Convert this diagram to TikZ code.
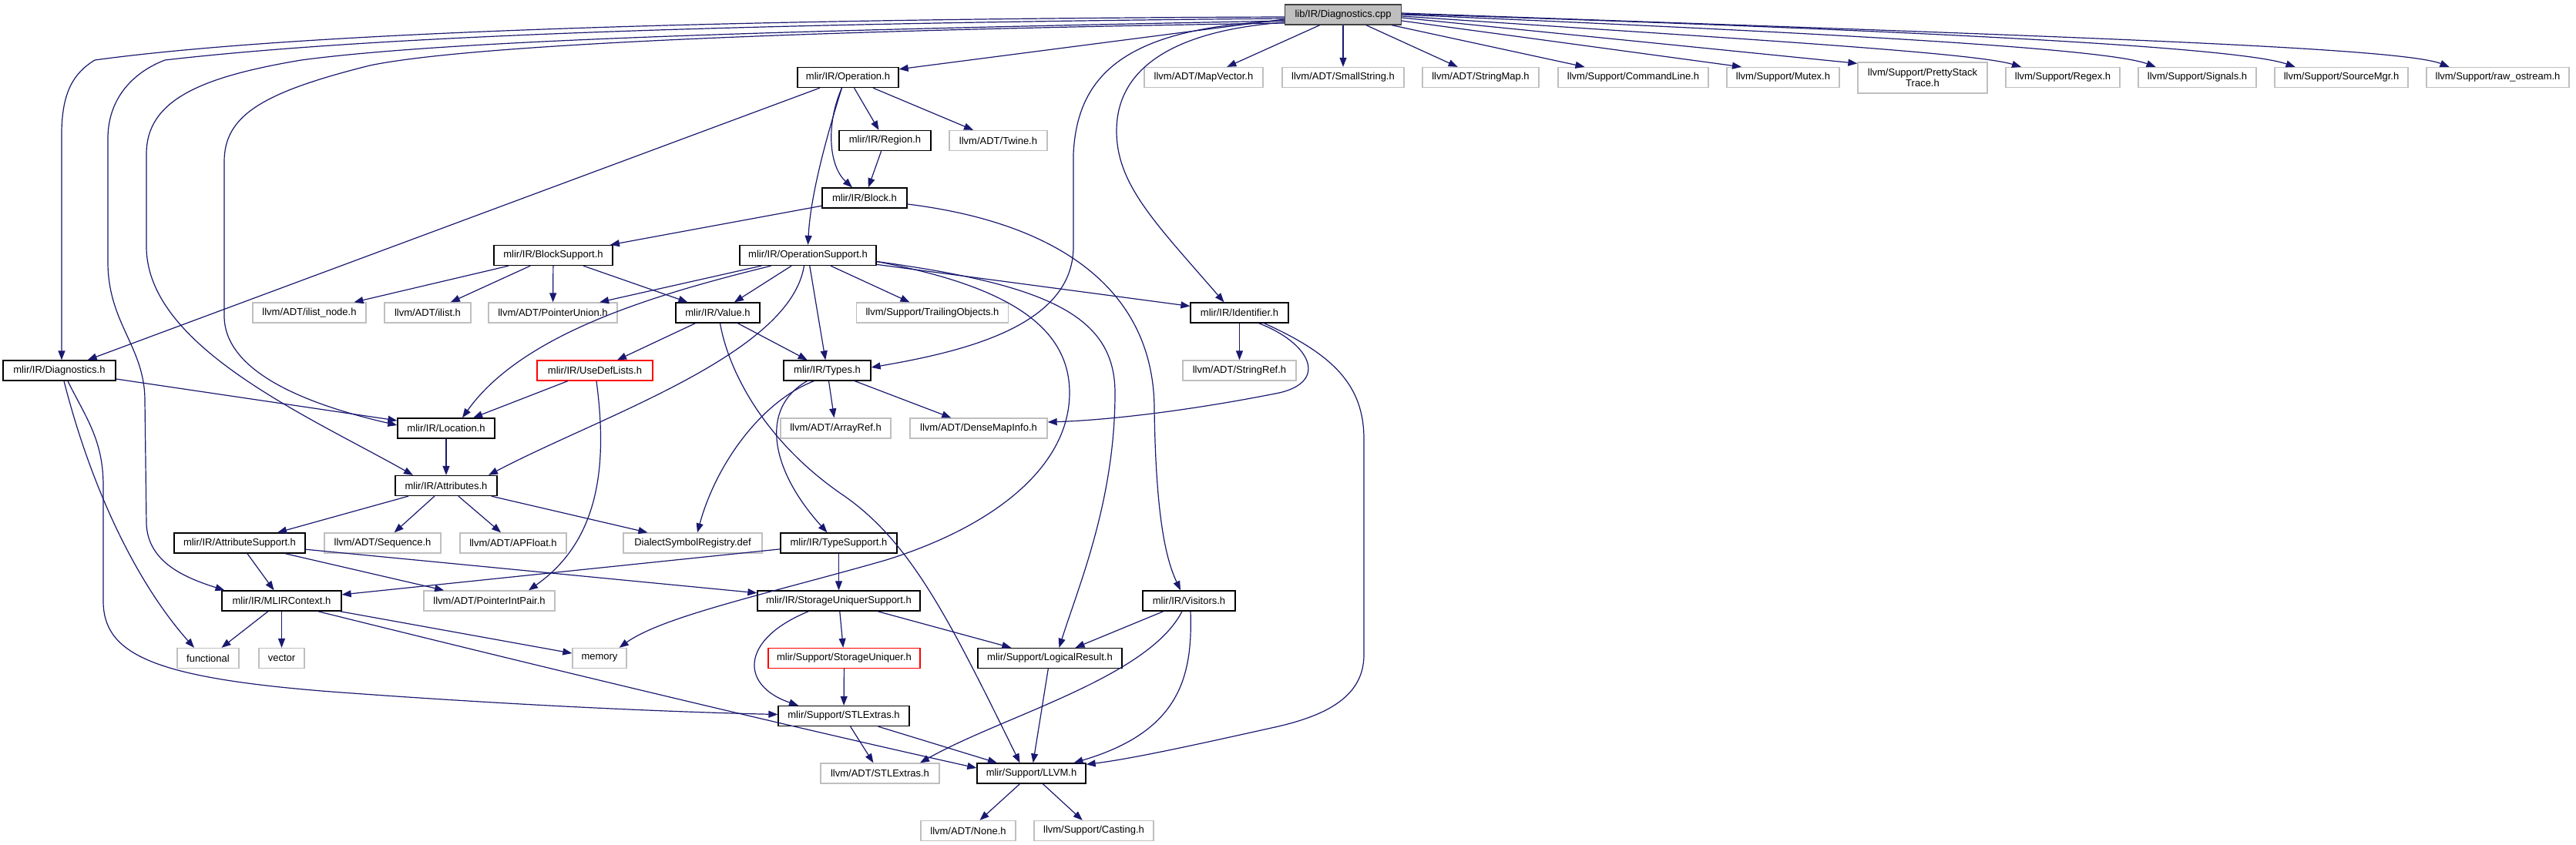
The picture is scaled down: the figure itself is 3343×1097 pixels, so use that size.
\documentclass[tikz,border=0pt]{standalone}
\usepackage{fontspec}
\setmainfont{Liberation Sans}
\usetikzlibrary{arrows.meta}
\definecolor{edgeblue}{HTML}{191970}
\definecolor{extgray}{HTML}{BFBFBF}
\definecolor{rootfill}{HTML}{BFBFBF}
\definecolor{rootline}{HTML}{404040}
\definecolor{redline}{HTML}{FF0000}
\tikzset{
  nd/.style={rectangle, draw, inner sep=0pt, minimum height=26pt, line width=1.3pt,
    font=\fontsize{13}{14}\selectfont, text=black},
  doc/.style={nd, draw=black},
  ext/.style={nd, draw=extgray},
  redn/.style={nd, draw=redline},
  root/.style={nd, draw=rootline, fill=rootfill},
  e/.style={draw=edgeblue, line width=1.2pt, -{Triangle[length=12pt,width=9pt]}}
}
\begin{document}
\begin{tikzpicture}[x=1pt,y=-1pt]
\fill[white] (0,0) rectangle (3343,1097);
\useasboundingbox (0,0) rectangle (3343,1097);

% nodes
\node[root, minimum width=151] (cpp) at (1743,19) {lib/IR/Diagnostics.cpp};
\node[ext, minimum width=158] (smallstr) at (1743,100.5) {llvm/ADT/SmallString.h};
\node[ext, minimum width=151] (strmap) at (1921.5,100.5) {llvm/ADT/StringMap.h};
\node[ext, minimum width=195] (cmdline) at (2119.5,100.5) {llvm/Support/CommandLine.h};
\node[ext, minimum width=146] (mutex) at (2314,100.5) {llvm/Support/Mutex.h};
\node[ext, minimum width=168, minimum height=40, align=center] (pretty) at (2495,101) {llvm/Support/PrettyStack\\Trace.h};
\node[ext, minimum width=148] (regex) at (2677,100.5) {llvm/Support/Regex.h};
\node[ext, minimum width=153] (signals) at (2851.5,100.5) {llvm/Support/Signals.h};
\node[ext, minimum width=173] (srcmgr) at (3038.5,100.5) {llvm/Support/SourceMgr.h};
\node[ext, minimum width=185] (rawos) at (3241.5,100.5) {llvm/Support/raw\_ostream.h};
\node[doc, minimum width=131] (op) at (1100.5,100.5) {mlir/IR/Operation.h};
\node[ext, minimum width=154] (mapvec) at (1562,100.5) {llvm/ADT/MapVector.h};
\node[doc, minimum width=119] (region) at (1148.5,182.5) {mlir/IR/Region.h};
\node[ext, minimum width=127] (twine) at (1295.5,182.5) {llvm/ADT/Twine.h};
\node[doc, minimum width=110] (block) at (1122,257) {mlir/IR/Block.h};
\node[doc, minimum width=177] (opsup) at (1048.5,331.5) {mlir/IR/OperationSupport.h};
\node[doc, minimum width=154] (blksup) at (718,331.5) {mlir/IR/BlockSupport.h};
\node[ext, minimum width=147] (ilistnode) at (401.5,406) {llvm/ADT/ilist\_node.h};
\node[ext, minimum width=112] (ilist) at (555,406) {llvm/ADT/ilist.h};
\node[ext, minimum width=167] (ptrunion) at (717.5,406) {llvm/ADT/PointerUnion.h};
\node[doc, minimum width=109] (value) at (931.5,406) {mlir/IR/Value.h};
\node[ext, minimum width=197] (trailing) at (1210,406) {llvm/Support/TrailingObjects.h};
\node[doc, minimum width=127] (ident) at (1608.5,406) {mlir/IR/Identifier.h};
\node[doc, minimum width=146] (diagh) at (77,481) {mlir/IR/Diagnostics.h};
\node[redn, minimum width=150] (usedef) at (772,481) {mlir/IR/UseDefLists.h};
\node[doc, minimum width=113] (types) at (1073.5,481) {mlir/IR/Types.h};
\node[ext, minimum width=147] (strref) at (1608.5,481) {llvm/ADT/StringRef.h};
\node[doc, minimum width=126] (loc) at (579,556) {mlir/IR/Location.h};
\node[ext, minimum width=143] (arrayref) at (1084.5,556) {llvm/ADT/ArrayRef.h};
\node[ext, minimum width=178] (densemap) at (1270,556) {llvm/ADT/DenseMapInfo.h};
\node[doc, minimum width=132] (attrs) at (579,630.5) {mlir/IR/Attributes.h};
\node[doc, minimum width=170] (attrsup) at (311,705) {mlir/IR/AttributeSupport.h};
\node[ext, minimum width=151] (sequence) at (496.5,705) {llvm/ADT/Sequence.h};
\node[ext, minimum width=138] (apfloat) at (666,705) {llvm/ADT/APFloat.h};
\node[ext, minimum width=180] (dialreg) at (899,705) {DialectSymbolRegistry.def};
\node[doc, minimum width=151] (typesup) at (1088.5,705) {mlir/IR/TypeSupport.h};
\node[doc, minimum width=155] (mlirctx) at (365.5,780) {mlir/IR/MLIRContext.h};
\node[ext, minimum width=170] (ptrint) at (635,780) {llvm/ADT/PointerIntPair.h};
\node[doc, minimum width=211] (susup) at (1088.5,780) {mlir/IR/StorageUniquerSupport.h};
\node[doc, minimum width=120] (visitors) at (1543,780) {mlir/IR/Visitors.h};
\node[ext, minimum width=80] (functional) at (270,854.5) {functional};
\node[ext, minimum width=59] (vector) at (365.5,854.5) {vector};
\node[ext, minimum width=70] (memory) at (778,854.5) {memory};
\node[redn, minimum width=197] (su) at (1095.5,854.5) {mlir/Support/StorageUniquer.h};
\node[doc, minimum width=187] (logres) at (1362.5,854.5) {mlir/Support/LogicalResult.h};
\node[doc, minimum width=170] (stlm) at (1095,929.5) {mlir/Support/STLExtras.h};
\node[ext, minimum width=154] (stll) at (1142,1004) {llvm/ADT/STLExtras.h};
\node[doc, minimum width=141] (llvmh) at (1338.5,1004) {mlir/Support/LLVM.h};
\node[ext, minimum width=123] (none) at (1256.5,1078.5) {llvm/ADT/None.h};
\node[ext, minimum width=155] (casting) at (1419.5,1078.5) {llvm/Support/Casting.h};

% edges from the root
\draw[e] ([yshift=-3pt]cpp.west) .. controls (1000,24) and (400,40) .. (123,78) .. controls (95,95) and (81,120) .. (80,170) -- ([xshift=3pt]diagh.north);
\draw[e] ([yshift=-5pt]cpp.west) .. controls (1000,30) and (500,45) .. (214,78) .. controls (170,95) and (140,130) .. (140,180) -- (140,340) .. controls (140,420) and (188,450) .. (188,520) -- (190,680) .. controls (192,730) and (240,750) .. ([xshift=-74pt]mlirctx.north);
\draw[e] ([yshift=-8pt]cpp.west) .. controls (1100,38) and (600,50) .. (391,78) .. controls (260,100) and (190,130) .. (190,200) -- (190,320) .. controls (190,450) and (400,540) .. ([xshift=-43pt]attrs.north);
\draw[e] ([yshift=-11pt]cpp.west) .. controls (1000,40) and (600,60) .. (480,85) .. controls (340,120) and (291,150) .. (291,210) -- (291,410) .. controls (291,490) and (420,530) .. ([yshift=4pt]loc.west);
\draw[e] ([yshift=-6pt]cpp.west) -- ([yshift=-3pt]op.north east);
\draw[e] (cpp) -- (mapvec);
\draw[e] (cpp) -- (smallstr);
\draw[e] (cpp) -- (strmap);
\draw[e] (cpp) -- (cmdline);
\draw[e] ([yshift=-8pt]cpp.east) -- ([xshift=-54pt]mutex.north);
\draw[e] ([yshift=-4pt]cpp.east) -- ([yshift=-2pt]pretty.north west);
\draw[e] ([yshift=-2pt]cpp.east) .. controls (2250,50) and (2560,68) .. ([xshift=-54pt]regex.north);
\draw[e] (cpp.east) .. controls (2350,42) and (2730,62) .. ([xshift=-54pt]signals.north);
\draw[e] ([yshift=1pt]cpp.east) .. controls (2450,38) and (2900,60) .. ([xshift=-60pt]srcmgr.north);
\draw[e] ([yshift=2pt]cpp.east) .. controls (2600,45) and (3110,60) .. ([xshift=-63pt]rawos.north);
\draw[e] ([yshift=-8pt]cpp.west) .. controls (1470,35) and (1398,90) .. (1393,200) -- (1393,320) .. controls (1393,420) and (1260,455) .. ([yshift=4pt]types.east);
\draw[e] ([yshift=-10pt]cpp.west) .. controls (1520,40) and (1449,90) .. (1449,170) .. controls (1449,240) and (1500,290) .. ([xshift=-20pt]ident.north);

% Operation.h
\draw[e] (op) -- (diagh);
\draw[e] (op) -- (region);
\draw[e] (op) -- (twine);
\draw[e] ([xshift=-8pt]op.south) .. controls (1072,160) and (1075,215) .. ([xshift=-16pt]block.north);
\draw[e] ([xshift=-8pt]op.south) .. controls (1075,170) and (1052,250) .. (opsup.north);
\draw[e] (region) -- (block);
\draw[e] (block) -- (blksup);
\draw[e] ([yshift=-8pt]block.east) .. controls (1380,290) and (1497,380) .. (1498,530) .. controls (1500,680) and (1515,730) .. ([xshift=-11pt]visitors.north);

% BlockSupport.h
\draw[e] (blksup) -- (ilistnode);
\draw[e] (blksup) -- (ilist);
\draw[e] (blksup) -- (ptrunion);
\draw[e] (blksup) -- (value);

% OperationSupport.h
\draw[e] (opsup) -- (ptrunion);
\draw[e] (opsup) -- (value);
\draw[e] ([xshift=-48pt]opsup.south) .. controls (860,380) and (680,430) .. ([xshift=21pt]loc.north);
\draw[e] ([xshift=-5pt]opsup.south) .. controls (1025,460) and (780,540) .. ([xshift=55pt]attrs.north);
\draw[e] (opsup) -- (types);
\draw[e] (opsup) -- (trailing);
\draw[e] (opsup) -- (ident);
\draw[e] ([yshift=-8pt]opsup.east) .. controls (1300,370) and (1388,420) .. (1388,510) .. controls (1388,600) and (1300,680) .. (1150,727) .. controls (1000,770) and (860,800) .. ([xshift=-10pt]memory.north east);
\draw[e] ([yshift=-8pt]opsup.east) .. controls (1360,370) and (1447,410) .. (1447,510) .. controls (1447,650) and (1400,760) .. ([xshift=12pt]logres.north);

% Value.h
\draw[e] (value) -- (usedef);
\draw[e] (value) -- (types);
\draw[e] ([xshift=3pt]value.south) .. controls (945,480) and (990,570) .. (1090,640) .. controls (1180,700) and (1230,800) .. ([xshift=-15pt]llvmh.north);

% UseDefLists.h
\draw[e] (usedef) -- (loc);
\draw[e] ([xshift=2pt]usedef.south) .. controls (788,600) and (780,700) .. ([xshift=51pt]ptrint.north);

% Diagnostics.h
\draw[e] ([yshift=-11pt]diagh.east) -- ([yshift=10pt]loc.west);
\draw[e] ([xshift=6pt]diagh.south) .. controls (120,640) and (180,760) .. ([xshift=-18pt]functional.north);
\draw[e] ([xshift=11pt]diagh.south) .. controls (110,540) and (134,570) .. (134,630) -- (134,780) .. controls (134,850) and (200,880) .. (430,898) .. controls (700,918) and (900,925) .. ([yshift=2pt]stlm.west);

% Location.h, Attributes.h
\draw[e] (loc) -- (attrs);
\draw[e] (attrs) -- (attrsup);
\draw[e] (attrs) -- (sequence);
\draw[e] (attrs) -- (apfloat);
\draw[e] (attrs) -- (dialreg);

% AttributeSupport.h, TypeSupport.h
\draw[e] (attrsup) -- (mlirctx);
\draw[e] (attrsup) -- (ptrint);
\draw[e] (attrsup) -- (susup);
\draw[e] (typesup) -- (mlirctx);
\draw[e] (typesup) -- (susup);

% Types.h
\draw[e] (types) -- (arrayref);
\draw[e] (types) -- (densemap);
\draw[e] ([xshift=-17pt]types.south) .. controls (990,520) and (930,600) .. ([xshift=6pt]dialreg.north);
\draw[e] ([xshift=-26pt]types.south) .. controls (985,530) and (1000,610) .. ([xshift=-15pt]typesup.north);

% Identifier.h
\draw[e] (ident) -- (strref);
\draw[e] ([xshift=25pt]ident.south) .. controls (1700,445) and (1725,495) .. (1660,510) .. controls (1560,530) and (1450,545) .. ([yshift=8pt]densemap.east);
\draw[e] ([xshift=32pt]ident.south) .. controls (1730,460) and (1770,500) .. (1770,570) -- (1770,850) .. controls (1770,905) and (1720,930) .. (1650,945) .. controls (1560,965) and (1470,985) .. ([yshift=-2pt]llvmh.north east);

% StorageUniquerSupport.h etc.
\draw[e] (susup) -- (su);
\draw[e] ([xshift=-39pt]susup.south) .. controls (960,830) and (960,890) .. ([xshift=-59pt]stlm.north);
\draw[e] (susup) -- (logres);
\draw[e] (su) -- (stlm);
\draw[e] (logres) -- (llvmh);
\draw[e] (visitors) -- (logres);
\draw[e] ([xshift=-9pt]visitors.south) .. controls (1490,880) and (1300,930) .. ([xshift=52pt]stll.north);
\draw[e] ([xshift=2pt]visitors.south) .. controls (1548,880) and (1530,950) .. ([xshift=55pt]llvmh.north);
\draw[e] (stlm) -- (stll);
\draw[e] (stlm) -- (llvmh);

% MLIRContext.h
\draw[e] (mlirctx) -- (functional);
\draw[e] (mlirctx) -- (vector);
\draw[e] (mlirctx) -- (memory);
\draw[e] ([xshift=47pt]mlirctx.south) .. controls (800,890) and (1100,960) .. ([yshift=7pt]llvmh.west);

% LLVM.h
\draw[e] (llvmh) -- (none);
\draw[e] (llvmh) -- (casting);
\end{tikzpicture}
\end{document}
